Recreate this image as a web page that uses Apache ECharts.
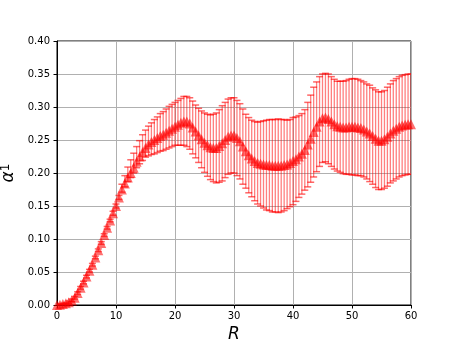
<!DOCTYPE html>
<html>
<head>
<meta charset="utf-8">
<script src="https://cdn.jsdelivr.net/npm/echarts@6/dist/echarts.min.js"></script>
<style>html,body{margin:0;padding:0;background:#fff;}#c{width:457px;height:343px;}</style>
</head>
<body>
<div id="c"></div>
<script>
var rValues = [0,0.5,1,1.5,2,2.5,3,3.5,4,4.5,5,5.5,6,6.5,7,7.5,8,8.5,9,9.5,10,10.5,11,11.5,12,12.5,13,13.5,14,14.5,15,15.5,16,16.5,17,17.5,18,18.5,19,19.5,20,20.5,21,21.5,22,22.5,23,23.5,24,24.5,25,25.5,26,26.5,27,27.5,28,28.5,29,29.5,30,30.5,31,31.5,32,32.5,33,33.5,34,34.5,35,35.5,36,36.5,37,37.5,38,38.5,39,39.5,40,40.5,41,41.5,42,42.5,43,43.5,44,44.5,45,45.5,46,46.5,47,47.5,48,48.5,49,49.5,50,50.5,51,51.5,52,52.5,53,53.5,54,54.5,55,55.5,56,56.5,57,57.5,58,58.5,59,59.5,60];
var alphaMean = [0.000,0.0005,0.0015,0.0025,0.004,0.007,0.011,0.018,0.026,0.034,0.043,0.052,0.061,0.072,0.083,0.094,0.106,0.117,0.128,0.139,0.150,0.163,0.175,0.184,0.193,0.200,0.208,0.217,0.225,0.232,0.238,0.243,0.247,0.250,0.253,0.256,0.258,0.261,0.264,0.267,0.270,0.273,0.276,0.278,0.278,0.275,0.269,0.263,0.257,0.251,0.246,0.242,0.239,0.238,0.238,0.241,0.245,0.250,0.255,0.257,0.257,0.253,0.248,0.240,0.233,0.227,0.222,0.218,0.215,0.214,0.213,0.212,0.212,0.211,0.211,0.211,0.211,0.212,0.213,0.215,0.218,0.221,0.225,0.229,0.235,0.243,0.252,0.262,0.270,0.278,0.283,0.284,0.282,0.278,0.274,0.271,0.270,0.269,0.269,0.270,0.270,0.270,0.269,0.268,0.266,0.263,0.260,0.256,0.252,0.249,0.249,0.251,0.255,0.260,0.264,0.267,0.270,0.272,0.273,0.274,0.274];
var alphaErrUp = [0.001,0.001,0.001,0.001,0.002,0.002,0.002,0.002,0.002,0.002,0.002,0.002,0.002,0.002,0.002,0.002,0.002,0.002,0.002,0.003,0.003,0.003,0.008,0.012,0.016,0.020,0.022,0.023,0.024,0.026,0.027,0.028,0.029,0.031,0.032,0.034,0.035,0.036,0.037,0.037,0.037,0.037,0.037,0.038,0.038,0.039,0.040,0.040,0.041,0.043,0.045,0.047,0.049,0.051,0.053,0.055,0.057,0.057,0.057,0.057,0.057,0.057,0.057,0.057,0.056,0.057,0.058,0.060,0.062,0.064,0.066,0.068,0.069,0.070,0.070,0.071,0.070,0.069,0.067,0.066,0.066,0.064,0.062,0.061,0.061,0.064,0.066,0.068,0.068,0.068,0.067,0.067,0.068,0.068,0.068,0.068,0.069,0.070,0.071,0.072,0.073,0.073,0.073,0.072,0.072,0.072,0.073,0.073,0.074,0.074,0.074,0.074,0.075,0.075,0.076,0.076,0.076,0.076,0.076,0.076,0.076];
var alphaErrDown = [0.001,0.001,0.001,0.001,0.002,0.002,0.002,0.002,0.002,0.002,0.002,0.002,0.002,0.002,0.002,0.002,0.002,0.002,0.002,0.003,0.003,0.003,0.004,0.005,0.006,0.007,0.008,0.009,0.011,0.013,0.014,0.017,0.019,0.021,0.022,0.023,0.024,0.025,0.026,0.027,0.028,0.031,0.034,0.036,0.038,0.039,0.040,0.040,0.041,0.043,0.045,0.047,0.049,0.051,0.053,0.055,0.057,0.057,0.057,0.057,0.057,0.057,0.057,0.057,0.056,0.057,0.058,0.060,0.062,0.064,0.066,0.068,0.069,0.070,0.070,0.071,0.070,0.069,0.067,0.066,0.066,0.064,0.062,0.061,0.061,0.064,0.066,0.068,0.068,0.068,0.067,0.067,0.068,0.068,0.068,0.068,0.069,0.070,0.071,0.072,0.073,0.073,0.073,0.072,0.072,0.072,0.073,0.073,0.074,0.074,0.074,0.074,0.075,0.075,0.076,0.076,0.076,0.076,0.076,0.076,0.076];
var xTicks = [0,10,20,30,40,50,60];
var yTicks = ['0.00','0.05','0.10','0.15','0.20','0.25','0.30','0.35','0.40'];

var meanData = [], errData = [];
for (var i = 0; i < rValues.length; i++) {
  meanData.push([rValues[i], alphaMean[i]]);
  errData.push([rValues[i], alphaMean[i] - alphaErrDown[i], alphaMean[i] + alphaErrUp[i]]);
}

var chart = echarts.init(document.getElementById('c'), null, {renderer: 'canvas'});
var font = 'DejaVu Sans';
chart.setOption({
  animation: false,
  backgroundColor: '#ffffff',
  grid: {left: 57, right: 46, top: 41, bottom: 38, show: true, borderColor: '#000', borderWidth: 1,
    backgroundColor: 'transparent', containLabel: false, outerBoundsMode: 'none'},
  xAxis: {
    type: 'value', min: 0, max: 60, interval: 10,
    name: 'R', nameLocation: 'middle', nameGap: 17,
    nameTextStyle: {fontFamily: font, fontStyle: 'italic', fontSize: 17, color: '#000'},
    axisLine: {show: true, onZero: false, lineStyle: {color: '#000', width: 1}},
    axisTick: {show: true, inside: false, length: 3.5, lineStyle: {color: '#000'}},
    axisLabel: {fontFamily: font, fontSize: 10, color: '#000', margin: 6,
      formatter: function (v) { return xTicks.indexOf(v) >= 0 ? String(v) : ''; }},
    splitLine: {show: true, lineStyle: {color: '#b0b0b0', width: 1}}
  },
  yAxis: {
    type: 'value', min: 0, max: 0.40, interval: 0.05,
    name: '{a|α}{s|1}', nameLocation: 'middle', nameGap: 36,
    nameTextStyle: {color: '#000', rich: {
      a: {fontFamily: font, fontStyle: 'italic', fontSize: 17, color: '#000', verticalAlign: 'bottom'},
      s: {fontFamily: font, fontSize: 12, color: '#000', verticalAlign: 'top'}
    }},
    axisLine: {show: true, onZero: false, lineStyle: {color: '#000', width: 1}},
    axisTick: {show: true, inside: false, length: 3.5, lineStyle: {color: '#000'}},
    axisLabel: {fontFamily: font, fontSize: 10, color: '#000', margin: 7,
      formatter: function (v) { var i = Math.round(v / 0.05); return yTicks[i] || ''; }},
    splitLine: {show: true, lineStyle: {color: '#b0b0b0', width: 1}}
  },
  series: [
    {
      type: 'custom',
      clip: true,
      data: errData,
      renderItem: function (params, api) {
        var x = api.value(0), lo = api.value(1), hi = api.value(2);
        var pT = api.coord([x, hi]), pB = api.coord([x, lo]);
        var w = 3.5;
        return {type: 'group', children: [
          {type: 'line', shape: {x1: pT[0], y1: pT[1], x2: pB[0], y2: pB[1]}, style: {stroke: 'rgba(255,0,0,0.5)', lineWidth: 1.3}},
          {type: 'line', shape: {x1: pT[0] - w, y1: pT[1], x2: pT[0] + w, y2: pT[1]}, style: {stroke: 'rgba(255,0,0,0.6)', lineWidth: 1.5}},
          {type: 'line', shape: {x1: pB[0] - w, y1: pB[1], x2: pB[0] + w, y2: pB[1]}, style: {stroke: 'rgba(255,0,0,0.6)', lineWidth: 1.5}}
        ]};
      },
      z: 2
    },
    {
      type: 'scatter',
      data: meanData,
      symbol: 'triangle',
      symbolSize: 10,
      itemStyle: {color: 'rgba(255,0,0,0.7)'},
      clip: true,
      z: 3
    }
  ]
});
</script>
</body>
</html>
